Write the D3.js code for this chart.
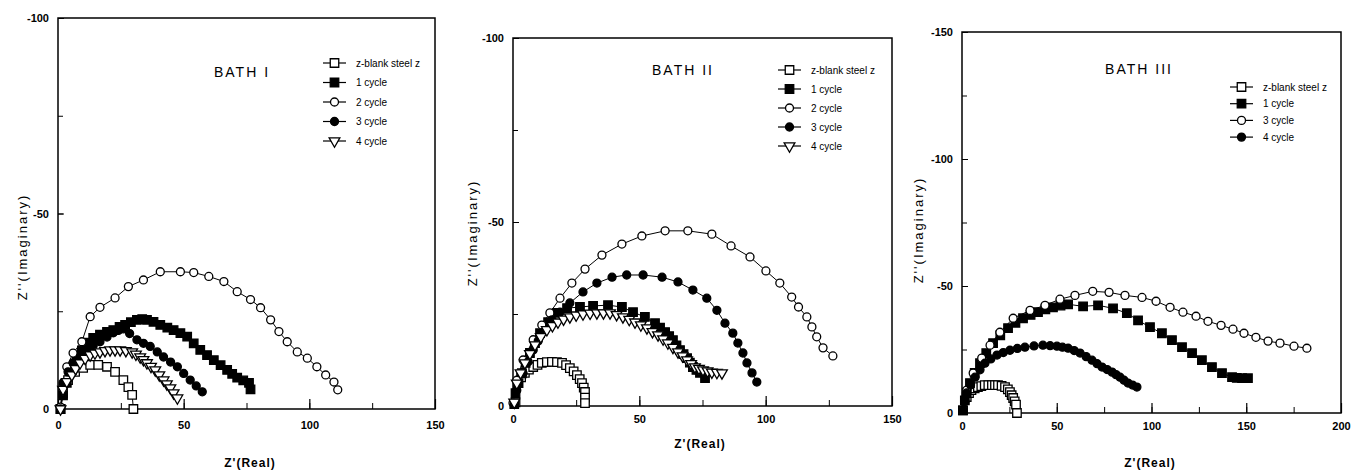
<!DOCTYPE html>
<html>
<head>
<meta charset="utf-8">
<script src="https://cdn.jsdelivr.net/npm/d3@7"></script>
<style>
  body { margin: 0; background: #fff; }
  svg text { font-family: "Liberation Sans", Arial, sans-serif; fill: #000; }
  .tick text { font-size: 11px; font-weight: bold; }
  .legend text { font-size: 10px; }
</style>
</head>
<body>
<script>
'use strict';

// series names per bath
const names1 = ["z-blank steel z", "1 cycle", "2 cycle", "3 cycle", "4 cycle"];
const names2 = ["z-blank steel z", "1 cycle", "2 cycle", "3 cycle", "4 cycle"];
const names3 = ["z-blank steel z", "1 cycle", "3 cycle", "4 cycle"];

// tick values
const xTicks1 = [0, 50, 100, 150];
const yTicks1 = [0, -50, -100];
const xTicks2 = [0, 50, 100, 150];
const yTicks2 = [0, -50, -100];
const xTicks3 = [0, 50, 100, 150, 200];
const yTicks3 = [0, -50, -100, -150];

// BATH I  [Z' real, Z'' imaginary]
const b1Blank = [[1,0],[2,-4],[4,-7.4],[6.8,-9.5],[10,-10.5],[12.8,-11.3],[16,-11.3],[19.5,-10.8],
  [22.7,-9.5],[26,-7.4],[28,-5.6],[29.5,-3.6],[30,0]];
const b1Cyc1 = [[1,0],[2,-3.5],[3.5,-6.7],[5.5,-10],[7.5,-12.5],[9.5,-15],[11.5,-17],[14,-18.2],[16.7,-19],
  [19.5,-19.7],[22,-20.2],[24.5,-21],[26.7,-21.5],[29,-22.2],[31.4,-22.8],[33.5,-23],[35.4,-22.8],[38,-22.3],
  [40.7,-21.5],[43.5,-20.8],[46,-20.2],[48.7,-19.4],[51.4,-18.5],[54,-16.8],[56.6,-15.1],[59.3,-13.8],
  [62,-12.5],[64.7,-11.2],[67.3,-10],[69.3,-9],[71.3,-8],[73.7,-7.3],[76,-6.7],[76.6,-5]];
const b1Cyc2 = [[1,-0.5],[2,-6],[3.5,-10.8],[6,-14.3],[9.5,-17.2],[12.8,-23.6],[16.7,-26],[22.7,-28.4],
  [28,-31.3],[34,-33],[40.7,-35.1],[48.7,-35.1],[54,-34.9],[60,-33.9],[66,-32.6],[71.3,-30],[76.6,-28],
  [80.6,-25.9],[84.6,-22.8],[87.9,-19.8],[91.2,-17.2],[95.2,-14.6],[99.2,-13],[103,-10.8],[106.5,-8.7],
  [109.8,-6.9],[111.3,-4.9]];
const b1Cyc3 = [[1,0],[2,-6.7],[4,-9.5],[6,-11.8],[9,-13.5],[11.5,-15],[14,-16.2],[16.7,-17.2],[19.5,-18.4],
  [22,-19.5],[24,-20.1],[26,-20.5],[28.5,-19.3],[31.4,-17.7],[34,-16.8],[36.7,-16],[39.5,-14.6],[42,-13.3],
  [44.8,-12],[47.5,-10.8],[50,-9.1],[52.6,-7.4],[55,-5.9],[57.4,-4.4]];
const b1Cyc4 = [[1,0],[2,-5],[3.5,-7],[5.5,-8.7],[7,-10.3],[8.8,-11.8],[10.8,-12.9],[12.8,-13.8],[14.7,-14.3],
  [16.7,-14.6],[18.7,-14.9],[20.7,-15.1],[22.7,-15.1],[24.7,-15.1],[27,-14.9],[29.5,-14.6],[31,-14],
  [32.7,-13.3],[34,-12.6],[35.4,-11.8],[37,-10.9],[38.7,-10],[40.3,-8.7],[42,-7.4],[43.3,-6.4],[44.7,-5.4],
  [46,-4.1],[47.5,-2.8]];

// BATH II
const b2Blank = [[1,-1],[2,-6.2],[3.2,-7.8],[4.7,-9],[6.3,-9.9],[8,-10.6],[9.7,-11.2],[11.4,-11.7],[13.4,-11.9],
  [15.4,-12],[17.4,-11.9],[19.4,-11.7],[21,-11.1],[22.5,-10.3],[24,-9.4],[25.3,-8.4],[26.4,-7.3],[27.3,-6.2],
  [28,-5],[28.5,-3.8],[28.5,-2.3],[28.5,-0.8]];
const b2Cyc1 = [[0.5,-0.5],[1,-3.5],[2.2,-6.2],[3.5,-8.9],[5,-11.7],[6.7,-14.4],[8.7,-17.1],[10.7,-19.8],
  [13.9,-22.8],[17.4,-25.3],[21.4,-26.6],[26.5,-26.9],[31.7,-27.2],[37.6,-27.4],[43.1,-26.9],[47.5,-25.5],
  [52.2,-24.2],[56.2,-22.5],[58.2,-21.3],[60.2,-20.1],[61.8,-19],[63.3,-17.9],[64.7,-16.5],[66.1,-15.2],
  [67.5,-14.1],[68.9,-13],[70,-11.8],[71.2,-10.6],[72.6,-9.8],[74,-9],[76,-7.6]];
const b2Cyc2 = [[0,-0.8],[1.5,-7],[4,-12.5],[8,-18],[11.4,-22],[14.6,-25.3],[18.6,-29.3],[23.3,-33.4],
  [28.5,-37.2],[35.2,-41],[43.1,-44],[51,-46.2],[60.2,-47.6],[69.2,-47.6],[78.7,-46.7],[86.3,-43.5],
  [93.8,-40.5],[100.1,-36.7],[105.6,-33.4],[110.3,-29.6],[113,-26.9],[116.3,-24.2],[118.3,-21.5],
  [120.2,-18.8],[122.7,-15.8],[126.6,-13.6]];
const b2Cyc3 = [[0.5,-0.5],[1.5,-4.3],[4,-8.9],[6,-12],[8,-15.2],[10,-17.7],[12,-20.1],[15.4,-23.4],[18.6,-25.5],
  [22.5,-28],[27.7,-31],[33.2,-33.4],[39.2,-35],[45,-35.6],[51.5,-35.6],[59,-35],[65.3,-33.7],[71.2,-31.5],
  [76.7,-29.3],[80.7,-26],[83.9,-22.5],[87,-19.8],[89,-17.1],[91,-14.4],[92.6,-11.7],[94.6,-9],[96.5,-6.5]];
const b2Cyc4 = [[0.5,-1],[1.5,-6.2],[3,-9],[4.7,-11.7],[6.7,-14.2],[8.7,-16.6],[11,-18.8],[13.4,-20.7],
  [15.6,-21.8],[17.8,-22.8],[20,-23.6],[22.5,-24.2],[25,-24.7],[27.7,-25],[30.5,-25.2],[33.2,-25.3],
  [35.8,-25.3],[38.4,-25.3],[41,-24.8],[43.5,-24.2],[46,-23.5],[48.3,-22.8],[50.6,-22],[53,-21.2],[55.2,-20.2],
  [57.4,-19.3],[59.4,-18.2],[61.3,-17.1],[63.3,-15.9],[65.3,-14.7],[67.1,-13.6],[68.9,-12.5],[70.5,-11.5],
  [72,-10.6],[73.6,-10.2],[75.2,-9.8],[77,-9.5],[78.7,-9.2],[80.7,-9.1],[82.7,-9]];

// BATH III
const b3Blank = [[0.5,-1],[2.5,-6.3],[3.7,-7.8],[5,-9],[6.7,-9.7],[8.4,-10.2],[10.2,-10.6],[12,-11],[13.9,-11],
  [15.8,-11],[17.4,-11],[19,-11],[20.9,-10.7],[22.7,-10.2],[24.2,-9.3],[25.3,-8.2],[26.2,-7],[27,-5.9],
  [27.8,-4.6],[28.5,-3.3],[29,-0]];
const b3Cyc1 = [[0.5,-1],[1.5,-5],[2.5,-8],[4.2,-11.8],[6.7,-15.8],[9.5,-19.6],[12.8,-23.6],[16.4,-27.5],
  [20.2,-30.6],[24.3,-33.4],[28.2,-35.5],[32.2,-37.3],[36.2,-38.6],[40.1,-39.7],[44,-40.8],[48,-41.6],
  [52,-42.3],[56,-42.8],[63.9,-42],[71.8,-42.4],[79.7,-41.2],[87,-39.3],[92.9,-36.5],[99.2,-33.8],
  [105.5,-31.4],[110.8,-28.7],[116.1,-25.9],[121.4,-23.6],[126.6,-20.8],[131.9,-18.1],[137.2,-15.7],
  [142.5,-14.1],[145,-13.8],[147.8,-13.7],[150.9,-13.7]];
const b3Cyc3 = [[0.5,-1],[2.5,-9],[5.9,-15.7],[10.4,-21.6],[14.8,-26.7],[20,-31.8],[27,-37.3],[35.9,-40.4],
  [43.8,-42.4],[51.7,-44.8],[59.6,-46.3],[69,-47.9],[77.6,-47.5],[86,-46.3],[95,-45.5],[102.4,-44],
  [109.8,-41.6],[116.6,-39.7],[123.5,-38.1],[129.8,-36.1],[136.7,-34.5],[143,-33],[148.8,-31.4],
  [155.1,-29.8],[161.5,-28.3],[167.8,-27.5],[175.2,-26.3],[182,-25.5]];
const b3Cyc4 = [[0.5,-1],[1.5,-4.5],[2.5,-7.9],[4.5,-11],[6.9,-14.1],[9.5,-17],[12.1,-19.6],[15.2,-21.3],
  [18.5,-22.8],[21.8,-23.8],[25.3,-24.7],[29.2,-25.4],[33.2,-25.9],[38,-26.4],[42.7,-26.7],[46.5,-26.5],
  [50.1,-26.3],[53,-25.9],[56,-25.5],[59.2,-24.6],[62.3,-23.6],[65.5,-22.2],[68.6,-20.8],[71.3,-19.4],
  [73.9,-18.1],[76.6,-17.1],[79.2,-16.1],[81.3,-15.1],[83.4,-14.1],[85.5,-12.9],[87.6,-11.8],[90,-11],
  [92.3,-10.2]];

// marker styles: shape + filled
const panels = [
  {
    title: "BATH I", titleX: 242, titleY: 77,
    left: 58, right: 435, top: 18, bottom: 409,
    xDomain: [0, 150], yDomain: [0, -100],
    xTicks: xTicks1, yTicks: yTicks1, xMinor: 25, yMinor: 25,
    series: [b1Blank, b1Cyc1, b1Cyc2, b1Cyc3, b1Cyc4], names: names1,
    marks: [["square", false], ["square", true], ["circle", false], ["circle", true], ["tri", false]],
    legX: 323, legY: 63, legStep: 19.5,
    yLabelX: 22, yLabelY: 247, xLabelX: 250, xLabelY: 467, xLabelGap: 20
  },
  {
    title: "BATH II", titleX: 683, titleY: 75,
    left: 513, right: 892, top: 38, bottom: 406,
    xDomain: [0, 150], yDomain: [0, -100],
    xTicks: xTicks2, yTicks: yTicks2, xMinor: 25, yMinor: 25,
    series: [b2Blank, b2Cyc1, b2Cyc2, b2Cyc3, b2Cyc4], names: names2,
    marks: [["square", false], ["square", true], ["circle", false], ["circle", true], ["tri", false]],
    legX: 778, legY: 70, legStep: 19,
    yLabelX: 472, yLabelY: 233, xLabelX: 700, xLabelY: 448, xLabelGap: 17
  },
  {
    title: "BATH III", titleX: 1139, titleY: 74,
    left: 962, right: 1341, top: 32, bottom: 413,
    xDomain: [0, 200], yDomain: [0, -150],
    xTicks: xTicks3, yTicks: yTicks3, xMinor: 25, yMinor: 25,
    series: [b3Blank, b3Cyc1, b3Cyc3, b3Cyc4], names: names3,
    marks: [["square", false], ["square", true], ["circle", false], ["circle", true]],
    legX: 1230, legY: 87, legStep: 16.7,
    yLabelX: 918, yLabelY: 230, xLabelX: 1150, xLabelY: 467, xLabelGap: 17
  }
];

const svg = d3.select("body").append("svg")
  .attr("width", 1351)
  .attr("height", 474);

function symbolFor(shape) {
  if (shape === "square") return d3.symbol().type(d3.symbolSquare).size(72);
  if (shape === "circle") return d3.symbol().type(d3.symbolCircle).size(50);
  return d3.symbol().type(d3.symbolTriangle).size(50);
}

function drawMarker(g, shape, filled, x, y) {
  g.append("path")
    .attr("d", symbolFor(shape)())
    .attr("transform", "translate(" + x + "," + y + ")" + (shape === "tri" ? "rotate(180)" : ""))
    .attr("fill", filled ? "#000" : "#fff")
    .attr("stroke", "#000")
    .attr("stroke-width", 1.3);
}

// plain hyphen minus like the original figure
const plainFmt = d => String(d);

function drawPanel(p) {
  let g = svg.append("g");

  let x = d3.scaleLinear().domain(p.xDomain).range([p.left, p.right]);
  let y = d3.scaleLinear().domain(p.yDomain).range([p.bottom, p.top]);

  // minor ticks (inward, no labels)
  let xMinorVals = d3.range(p.xDomain[0], p.xDomain[1] + 0.1, p.xMinor);
  let yMinorVals = d3.range(0, p.yDomain[1] - 0.1, -p.yMinor);

  g.append("g")
    .attr("transform", "translate(0," + p.bottom + ")")
    .call(d3.axisBottom(x).tickValues(xMinorVals).tickSizeInner(-6).tickSizeOuter(0).tickFormat(""))
    .call(a => a.select(".domain").remove());

  g.append("g")
    .attr("transform", "translate(0," + p.bottom + ")")
    .call(d3.axisBottom(x).tickValues(p.xTicks).tickSizeInner(-10).tickSizeOuter(0)
      .tickPadding(p.xLabelGap - 8).tickFormat(plainFmt))
    .call(a => a.select(".domain").remove())
    .call(a => a.selectAll(".tick line").attr("stroke-width", 1.2));

  g.append("g")
    .attr("transform", "translate(" + p.left + ",0)")
    .call(d3.axisLeft(y).tickValues(yMinorVals).tickSizeInner(-5).tickSizeOuter(0).tickFormat(""))
    .call(a => a.select(".domain").remove());

  g.append("g")
    .attr("transform", "translate(" + p.left + ",0)")
    .call(d3.axisLeft(y).tickValues(p.yTicks).tickSizeInner(-6).tickSizeOuter(0)
      .tickPadding(9).tickFormat(plainFmt))
    .call(a => a.select(".domain").remove());

  // frame
  g.append("rect")
    .attr("x", p.left).attr("y", p.top)
    .attr("width", p.right - p.left).attr("height", p.bottom - p.top)
    .attr("fill", "none").attr("stroke", "#000").attr("stroke-width", 1.5);

  // series
  let line = d3.line().x(d => x(d[0])).y(d => y(d[1]));
  p.series.forEach((s, i) => {
    g.append("path")
      .datum(s)
      .attr("d", line)
      .attr("fill", "none")
      .attr("stroke", "#000")
      .attr("stroke-width", 1);
  });
  p.series.forEach((s, i) => {
    let m = p.marks[i];
    s.forEach(d => drawMarker(g, m[0], m[1], x(d[0]), y(d[1])));
  });

  // title
  g.append("text")
    .attr("x", p.titleX).attr("y", p.titleY)
    .attr("text-anchor", "middle")
    .style("font-size", "14px")
    .style("letter-spacing", "2px")
    .text(p.title);

  // legend
  let leg = g.append("g").attr("class", "legend");
  p.names.forEach((n, i) => {
    let ly = p.legY + i * p.legStep;
    leg.append("line")
      .attr("x1", p.legX).attr("x2", p.legX + 23)
      .attr("y1", ly).attr("y2", ly)
      .attr("stroke", "#000").attr("stroke-width", 1.2);
    drawMarker(leg, p.marks[i][0], p.marks[i][1], p.legX + 11.5, ly);
    leg.append("text")
      .attr("x", p.legX + 33).attr("y", ly + 3.5)
      .text(n);
  });

  // axis labels
  g.append("text")
    .attr("transform", "translate(" + p.yLabelX + "," + p.yLabelY + ")rotate(-90)")
    .attr("text-anchor", "middle")
    .attr("dy", "0.35em")
    .style("font-size", "13px")
    .style("letter-spacing", "2px")
    .text("Z''(Imaginary)");

  g.append("text")
    .attr("x", p.xLabelX).attr("y", p.xLabelY)
    .attr("text-anchor", "middle")
    .style("font-size", "12px")
    .style("font-weight", "bold")
    .style("letter-spacing", "1px")
    .text("Z'(Real)");
}

panels.forEach(drawPanel);
</script>
</body>
</html>
